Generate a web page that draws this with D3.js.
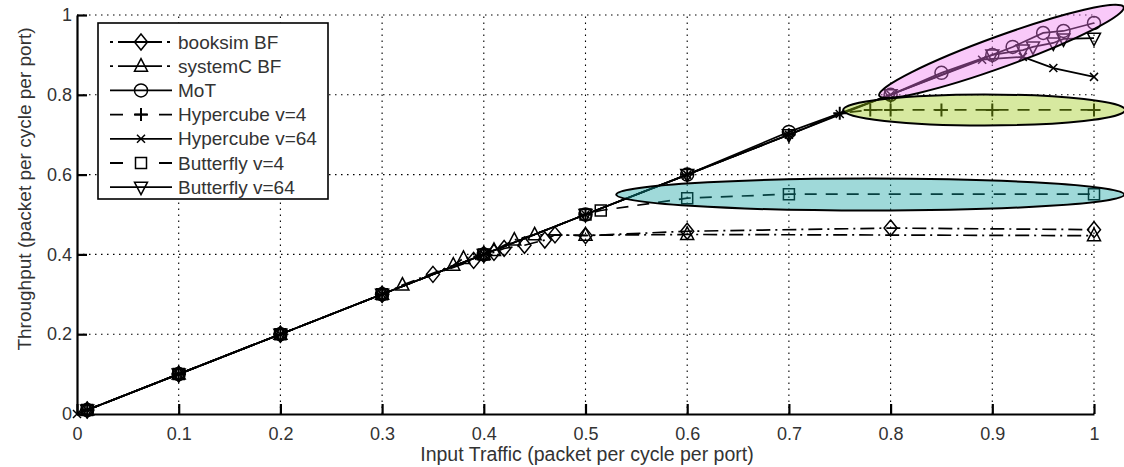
<!DOCTYPE html>
<html>
<head>
<meta charset="utf-8">
<script src="https://cdn.jsdelivr.net/npm/d3@7"></script>
<style>
  body { margin: 0; background: #fff; }
  svg { display: block; font-family: "Liberation Sans", Arial, sans-serif; }
</style>
</head>
<body>
<svg width="1124" height="467"></svg>
<script>
// Data
const booksimX = [0.01, 0.1, 0.2, 0.3, 0.35, 0.39, 0.4, 0.41, 0.42, 0.44, 0.46, 0.47, 0.5, 0.6, 0.8, 1.0];
const booksimY = [0.01, 0.1, 0.2, 0.3, 0.35, 0.385, 0.4, 0.405, 0.415, 0.423, 0.436, 0.449, 0.447, 0.458, 0.466, 0.462];

const systemcX = [0.01, 0.1, 0.2, 0.3, 0.32, 0.37, 0.38, 0.4, 0.41, 0.43, 0.45, 0.5, 0.6, 1.0];
const systemcY = [0.01, 0.1, 0.2, 0.3, 0.323, 0.373, 0.39, 0.4, 0.41, 0.436, 0.449, 0.448, 0.45, 0.447];

const motX = [0.01, 0.1, 0.2, 0.3, 0.4, 0.5, 0.6, 0.7, 0.8, 0.85, 0.9, 0.92, 0.95, 0.97, 1.0];
const motY = [0.01, 0.1, 0.2, 0.3, 0.4, 0.5, 0.6, 0.707, 0.8, 0.855, 0.9, 0.92, 0.955, 0.96, 0.98];

const hc4X = [0.01, 0.1, 0.2, 0.3, 0.4, 0.5, 0.6, 0.7, 0.75, 0.78, 0.8, 0.85, 0.9, 1.0];
const hc4Y = [0.01, 0.1, 0.2, 0.3, 0.4, 0.5, 0.6, 0.7, 0.754, 0.762, 0.762, 0.762, 0.762, 0.762];

const hc64X = [0, 0.01, 0.1, 0.2, 0.3, 0.4, 0.5, 0.6, 0.7, 0.75, 0.8, 0.89, 0.93, 0.96, 1.0];
const hc64Y = [0, 0.01, 0.1, 0.2, 0.3, 0.4, 0.5, 0.6, 0.7, 0.752, 0.8, 0.888, 0.895, 0.867, 0.845];

const bf4X = [0.01, 0.1, 0.2, 0.3, 0.4, 0.5, 0.515, 0.6, 0.7, 1.0];
const bf4Y = [0.01, 0.1, 0.2, 0.3, 0.4, 0.5, 0.51, 0.541, 0.551, 0.551];

const bf64X = [0.01, 0.1, 0.2, 0.3, 0.4, 0.5, 0.6, 0.7, 0.8, 0.9, 0.93, 0.94, 0.96, 0.97, 1.0];
const bf64Y = [0.01, 0.1, 0.2, 0.3, 0.4, 0.5, 0.6, 0.7, 0.8, 0.9, 0.912, 0.92, 0.93, 0.94, 0.942];

const seriesNames = ["booksim BF", "systemC BF", "MoT", "Hypercube v=4", "Hypercube v=64", "Butterfly v=4", "Butterfly v=64"];
const xTicks = [0, 0.1, 0.2, 0.3, 0.4, 0.5, 0.6, 0.7, 0.8, 0.9, 1];
const yTicks = [0, 0.2, 0.4, 0.6, 0.8, 1];

// highlight ellipses: centre (data units)
const ellCx = [0.909, 0.892, 0.78];
const ellCy = [0.909, 0.762, 0.55];
const ellColors = ["rgb(240,120,240)", "rgb(155,200,17)", "rgb(15,160,160)"];

const svg = d3.select("svg");
const width = 1124, height = 467;

const x = d3.scaleLinear().domain([0, 1]).range([77, 1094]);
const y = d3.scaleLinear().domain([0, 1]).range([414, 15]);

// grid
const grid = svg.append("g").attr("stroke", "#000").attr("stroke-width", 1.1)
  .attr("stroke-dasharray", "1.5,4.5");
grid.selectAll(".gx").data(xTicks.slice(1)).join("line")
  .attr("x1", d => x(d)).attr("x2", d => x(d)).attr("y1", y(0)).attr("y2", y(1));
grid.selectAll(".gy").data(yTicks.slice(1)).join("line")
  .attr("y1", d => y(d)).attr("y2", d => y(d)).attr("x1", x(0)).attr("x2", x(1));

// axes
const fmt = d => d === 0 ? "0" : d === 1 ? "1" : d3.format(".1f")(d);
const xAxis = svg.append("g").attr("transform", `translate(0,${y(0)})`)
  .call(d3.axisBottom(x).tickValues(xTicks).tickFormat(fmt).tickSizeInner(-10).tickSizeOuter(0).tickPadding(13));
const yAxis = svg.append("g").attr("transform", `translate(${x(0)},0)`)
  .call(d3.axisLeft(y).tickValues(yTicks).tickFormat(fmt).tickSizeInner(-10).tickSizeOuter(0).tickPadding(5));
[xAxis, yAxis].forEach(a => {
  a.select(".domain").attr("stroke-width", 2.2);
  a.selectAll(".tick line").attr("stroke-width", 2.2);
  a.selectAll("text").attr("font-size", 18).attr("fill", "#333")
    .attr("font-family", "Liberation Sans, Arial, sans-serif");
});

svg.append("text").attr("x", 587).attr("y", 461).attr("text-anchor", "middle")
  .attr("font-size", 19.5).attr("fill", "#333")
  .text("Input Traffic (packet per cycle per port)");
svg.append("text").attr("transform", "translate(31,189) rotate(-90)").attr("text-anchor", "middle")
  .attr("font-size", 19).attr("fill", "#333")
  .text("Throughput (packet per cycle per port)");

// markers
function marker(g, type) {
  const s = g.append("path").attr("fill", "none").attr("stroke", "#000").attr("stroke-width", 1.5);
  if (type === "diamond") s.attr("d", "M0,-8L6.5,0L0,8L-6.5,0Z");
  else if (type === "triangle") s.attr("d", "M0,-7.5L6.5,5L-6.5,5Z");
  else if (type === "tridown") s.attr("d", "M0,7.5L6.5,-5L-6.5,-5Z");
  else if (type === "circle") s.attr("d", "M6.5,0A6.5,6.5 0 1,1 -6.5,0A6.5,6.5 0 1,1 6.5,0Z");
  else if (type === "square") s.attr("d", "M-5.5,-5.5H5.5V5.5H-5.5Z");
  else if (type === "plus") s.attr("d", "M-6.5,0H6.5M0,-6.5V6.5").attr("stroke-width", 2);
  else if (type === "cross") s.attr("d", "M-4,-4L4,4M-4,4L4,-4");
}

const dashDot = "14,5,2,5", dashed = "12,9";
const series = [
  {xs: booksimX, ys: booksimY, dash: dashDot, m: "diamond", leg: "3,5,44,5,3"},
  {xs: systemcX, ys: systemcY, dash: dashDot, m: "triangle", leg: "3,5,44,5,3"},
  {xs: motX, ys: motY, dash: null, m: "circle", leg: null},
  {xs: hc4X, ys: hc4Y, dash: dashed, m: "plus", leg: "13,11,14,11,13"},
  {xs: hc64X, ys: hc64Y, dash: null, m: "cross", leg: null},
  {xs: bf4X, ys: bf4Y, dash: dashed, m: "square", leg: "13,36,13"},
  {xs: bf64X, ys: bf64Y, dash: null, m: "tridown", leg: null}
];

const line = d3.line().x(d => x(d[0])).y(d => y(d[1]));
const plot = svg.append("g");
series.forEach(s => {
  const pts = s.xs.map((v, i) => [v, s.ys[i]]);
  plot.append("path").attr("d", line(pts)).attr("fill", "none")
    .attr("stroke", "#000").attr("stroke-width", 1.7)
    .attr("stroke-dasharray", s.dash);
  pts.forEach(p => {
    marker(plot.append("g").attr("transform", `translate(${x(p[0])},${y(p[1])})`), s.m);
  });
});

// ellipses on top, semi transparent
const ellRx = [130, 141, 254], ellRy = [15.5, 15.5, 16], ellRot = [-19.9, 0, 0];
ellCx.forEach((cx, i) => {
  svg.append("ellipse")
    .attr("transform", `translate(${x(cx)},${y(ellCy[i])}) rotate(${ellRot[i]})`)
    .attr("rx", ellRx[i]).attr("ry", ellRy[i])
    .attr("fill", ellColors[i]).attr("fill-opacity", 0.4)
    .attr("stroke", "#000").attr("stroke-width", 2);
});

// legend
const lg = svg.append("g");
lg.append("rect").attr("x", 98).attr("y", 23).attr("width", 230).attr("height", 176)
  .attr("fill", "#fff").attr("stroke", "#000").attr("stroke-width", 1.6);
seriesNames.forEach((name, i) => {
  const ly = 42 + i * 24.2;
  lg.append("line").attr("x1", 110).attr("x2", 172).attr("y1", ly).attr("y2", ly)
    .attr("stroke", "#000").attr("stroke-width", 1.8)
    .attr("stroke-dasharray", series[i].leg);
  marker(lg.append("g").attr("transform", `translate(141,${ly})`), series[i].m);
  lg.append("text").attr("x", 178).attr("y", ly + 6.5).attr("font-size", 19)
    .attr("fill", "#333").text(name);
});
</script>
</body>
</html>
